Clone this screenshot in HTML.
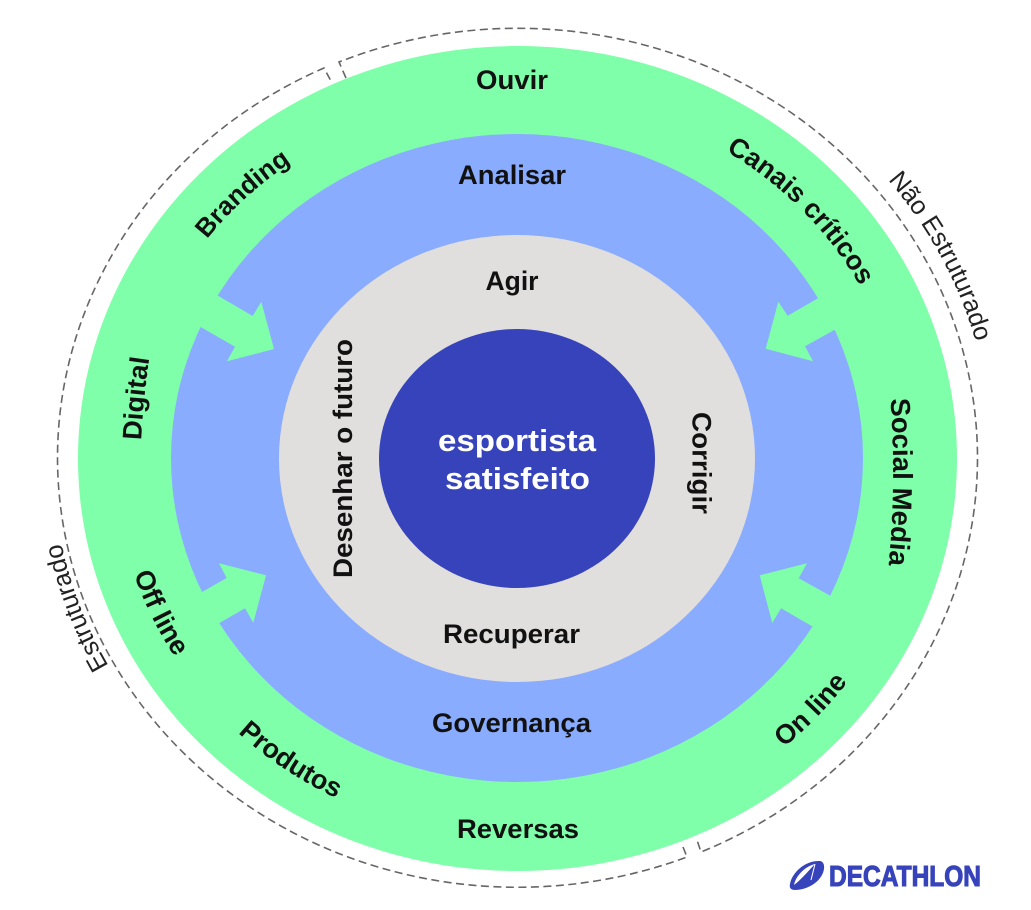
<!DOCTYPE html>
<html><head><meta charset="utf-8"><style>
html,body{margin:0;padding:0;background:#fff}
svg{display:block}
text{font-family:"Liberation Sans",sans-serif;font-weight:700;font-size:27px;fill:#111}
.c{text-anchor:middle}
.o{font-weight:400;font-size:25.5px;fill:#222}
</style></head><body>
<svg width="1031" height="910" viewBox="0 0 1031 910" xmlns="http://www.w3.org/2000/svg">
<defs>
<path id="cw" d="M517.5 822.5A389 364 0 1 1 517.5 94.5A389 364 0 1 1 517.5 822.5"/>
<path id="dig" d="M141 445Q143 400 150 353"/>
<path id="soc" d="M890 392Q897 482 888 572"/>
<path id="ccw" d="M517.5 81.5A403 377 0 1 0 517.5 835.5A403 377 0 1 0 517.5 81.5"/>
<path id="ccwP" d="M517.5 78.5A404 380 0 1 0 517.5 838.5A404 380 0 1 0 517.5 78.5"/>
<path id="ccwN" d="M517.5 76.5A407 382 0 1 0 517.5 840.5A407 382 0 1 0 517.5 76.5"/>
<path id="cwO1" d="M517.5 903.5A475 445 0 1 1 517.5 13.5A475 445 0 1 1 517.5 903.5"/>
<path id="cwO2" d="M517.5 893.5A465 435 0 1 1 517.5 23.5A465 435 0 1 1 517.5 893.5"/>
</defs>
<ellipse cx="517.5" cy="458.5" rx="439.5" ry="412.5" fill="#7FFFA9"/>
<ellipse cx="517" cy="458" rx="346" ry="324" fill="#8AACFF"/>
<ellipse cx="517" cy="458.5" rx="238" ry="223.5" fill="#E1DFDD"/>
<ellipse cx="517" cy="458.5" rx="138" ry="129.5" fill="#3643BA"/>
<g fill="#7FFFA9">
<polygon points="218,295.7 252.7,316 261.3,301.7 274,349 227,361.3 235,346.7 200.7,327 190,310"/>
<polygon points="818,298.3 787.7,315.7 778.3,301.7 765.7,348.7 813,361.3 805,346.3 834.7,329.7 845,312"/>
<polygon points="202,592 226.7,578 219,563.3 266,575.3 253.3,622.7 245,608.3 219,623.3 190,610"/>
<polygon points="830.7,596 798.7,578.3 807,563.3 759.7,575.3 772.3,623 781,608.3 813,626.7 845,610"/>
</g>
<g fill="none" stroke="#666" stroke-width="1.6" stroke-dasharray="8 4.5">
<path d="M346 78L339 62A460 430 0 0 1 977.5 458.7A460 430 0 0 1 701 852L697 840"/>
<path d="M683 847L687 857A460 430 0 0 1 57.5 458.7A460 430 0 0 1 324 68L332 83"/>
</g>
<text class="c" x="512" y="89" textLength="72" lengthAdjust="spacingAndGlyphs">Ouvir</text>
<text class="c" x="512" y="184" textLength="108" lengthAdjust="spacingAndGlyphs">Analisar</text>
<text class="c" x="512" y="290" textLength="53" lengthAdjust="spacingAndGlyphs">Agir</text>
<text class="c" x="511.5" y="643" textLength="137" lengthAdjust="spacingAndGlyphs">Recuperar</text>
<text class="c" x="511.5" y="732" textLength="159" lengthAdjust="spacingAndGlyphs">Governança</text>
<text class="c" x="518" y="838" textLength="122" lengthAdjust="spacingAndGlyphs">Reversas</text>
<text class="c" x="517" y="451" textLength="158" lengthAdjust="spacingAndGlyphs" style="font-size:31px;fill:#fff">esportista</text>
<text class="c" x="517.5" y="489" textLength="145" lengthAdjust="spacingAndGlyphs" style="font-size:31px;fill:#fff">satisfeito</text>
<text class="c" transform="translate(352 458.5) rotate(-90)" textLength="239" lengthAdjust="spacingAndGlyphs">Desenhar o futuro</text>
<text class="c" transform="translate(692.5 463) rotate(90)" textLength="102" lengthAdjust="spacingAndGlyphs">Corrigir</text>
<text class="c"><textPath href="#dig" startOffset="50%">Digital</textPath></text>
<text class="c" style="font-size:26px"><textPath href="#cw" startOffset="37.45%">Branding</textPath></text>
<text class="c"><textPath href="#cw" startOffset="63.3%">Canais críticos</textPath></text>
<text class="c" style="font-size:27.5px"><textPath href="#soc" startOffset="50%">Social Media</textPath></text>
<text class="c"><textPath href="#ccw" startOffset="31.7%">Off line</textPath></text>
<text class="c"><textPath href="#ccwP" startOffset="40%">Produtos</textPath></text>
<text class="c"><textPath href="#ccwN" startOffset="63.45%">On line</textPath></text>
<text class="c o"><textPath href="#cwO1" startOffset="67.7%">Não Estruturado</textPath></text>
<text class="c o"><textPath href="#cwO2" startOffset="19.65%">Estruturado</textPath></text>
<path d="M790 884C792 872 806 860 820 861C826 862 825 872 820 878C814 886 803 890 795 890C791 890 789 888 790 884Z" fill="#3643BA"/>
<path d="M794 885C796 875 806 866 815 864C809 870 802 879 794 885Z" fill="#fff"/>
<path d="M815 864L811 880" stroke="#fff" stroke-width="1" fill="none"/>
<text x="829" y="886" textLength="152" lengthAdjust="spacingAndGlyphs" style="font-size:29px;fill:#3643BA;stroke:#3643BA;stroke-width:1.1">DECATHLON</text>
</svg>
</body></html>
